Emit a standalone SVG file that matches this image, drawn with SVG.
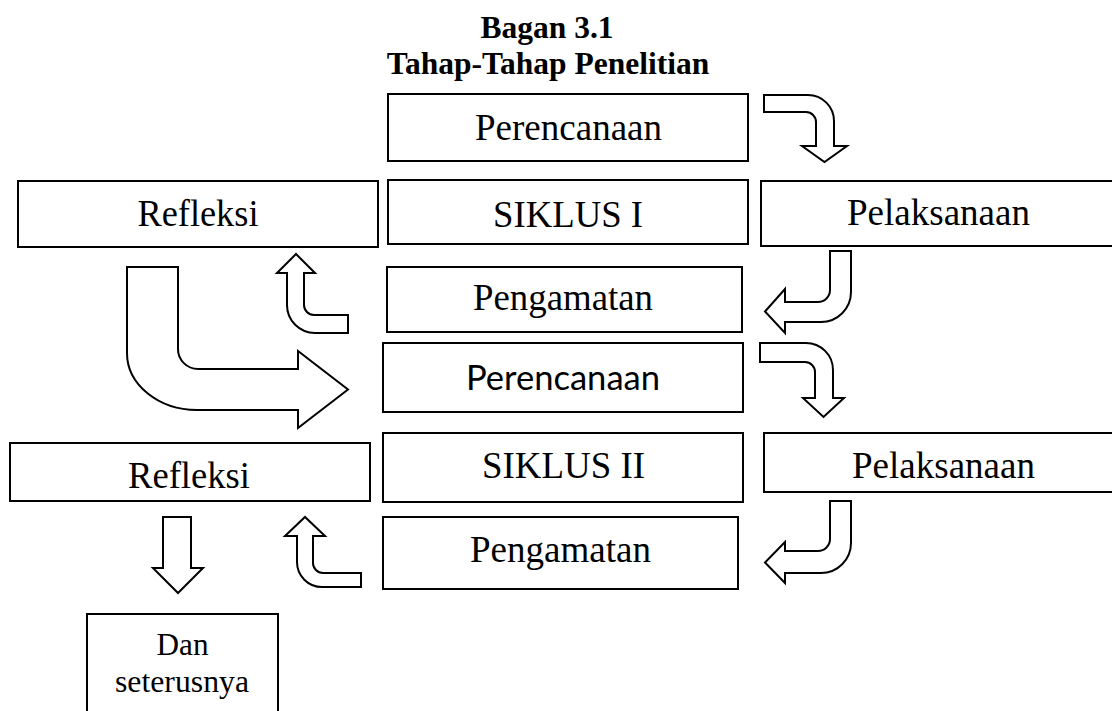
<svg xmlns="http://www.w3.org/2000/svg" width="1112" height="711" viewBox="0 0 1112 711">
<style>
.box{fill:#fff;stroke:#000;stroke-width:2}
.arr{fill:#fff;stroke:#000;stroke-width:2;stroke-linejoin:miter}
.t{font-family:"Liberation Serif","Times New Roman",serif;font-size:37px;fill:#000;text-anchor:middle}
.s{font-family:Lato,"Open Sans","Liberation Sans",sans-serif;font-size:35px;fill:#000;text-anchor:middle}
.sm{font-family:"Liberation Serif","Times New Roman",serif;font-size:31.5px;fill:#000;text-anchor:middle}
.title{font-family:"Liberation Serif","Times New Roman",serif;font-size:31.5px;font-weight:bold;fill:#000;text-anchor:middle}
</style>
<rect width="1112" height="711" fill="#fff"/>
<g id="title">
<text class="title" x="547" y="37.5">Bagan 3.1</text>
<text class="title" x="548" y="73.5">Tahap-Tahap Penelitian</text>
</g>
<g id="connectors">
<path class="arr" d="M764,95 H808 A26,26 0 0 1 834,121 V146 H847 L824.5,162 L802,146 H816 V122 A10,10 0 0 0 806,112 H764 Z"/>
<path class="arr" d="M830,251 H851 V292 A30,30 0 0 1 821,322 H785 V333 L765,311.5 L785,289 V302 H818 A12,12 0 0 0 830,290 Z"/>
<path class="arr" d="M348,315 V333 H315 A28,28 0 0 1 287,305 V273 H277 L296,254 L315,273 H304 V305 A10,10 0 0 0 314,315 Z"/>
<path class="arr" d="M127,267 H178 V349 A20,20 0 0 0 198,369 H298 V351 L348,389.5 L298,428 V410 H197 A70,57 0 0 1 127,353 Z"/>
<path class="arr" d="M760,343 H806 A27,27 0 0 1 833,370 V398 H844 L823.5,417 L803,398 H815 V372 A10,10 0 0 0 805,362 H760 Z"/>
<path class="arr" d="M830,501 H851 V543 A30,30 0 0 1 821,573 H785 V583 L765,562.5 L785,542 V551 H818 A12,12 0 0 0 830,539 Z"/>
<path class="arr" d="M361,573 V587 H322 A25,25 0 0 1 297,562 V536 H285 L305,517 L325,536 H313 V563 A10,10 0 0 0 323,573 Z"/>
<path class="arr" d="M163,517 H191 V568 H203 L178,593 L153,568 H163 Z"/>
</g>
<g id="perencanaan1"><rect class="box" x="388" y="94" width="360" height="67"/><text class="t" x="568.5" y="140" textLength="187" lengthAdjust="spacingAndGlyphs">Perencanaan</text></g>
<g id="siklus1"><rect class="box" x="388" y="180" width="360" height="64"/><text class="t" x="568" y="227" textLength="150" lengthAdjust="spacingAndGlyphs">SIKLUS I</text></g>
<g id="refleksi1"><rect class="box" x="18" y="181" width="360" height="66"/><text class="t" x="198" y="225.5" textLength="121" lengthAdjust="spacingAndGlyphs">Refleksi</text></g>
<g id="pelaksanaan1"><rect class="box" x="761" y="181" width="360" height="65"/><text class="t" x="938.5" y="225" textLength="183" lengthAdjust="spacingAndGlyphs">Pelaksanaan</text></g>
<g id="pengamatan1"><rect class="box" x="387" y="267" width="355" height="65"/><text class="t" x="563" y="310" textLength="180" lengthAdjust="spacingAndGlyphs">Pengamatan</text></g>
<g id="perencanaan2"><rect class="box" x="383" y="343" width="360" height="69"/><text class="s" x="563" y="390" textLength="194" lengthAdjust="spacingAndGlyphs">Perencanaan</text></g>
<g id="siklus2"><rect class="box" x="383" y="433" width="360" height="69"/><text class="t" x="563.5" y="478" textLength="163" lengthAdjust="spacingAndGlyphs">SIKLUS II</text></g>
<g id="refleksi2"><rect class="box" x="10" y="443" width="360" height="58"/><text class="t" x="189" y="488" textLength="122" lengthAdjust="spacingAndGlyphs">Refleksi</text></g>
<g id="pelaksanaan2"><rect class="box" x="764" y="433" width="360" height="59"/><text class="t" x="943.5" y="478" textLength="183" lengthAdjust="spacingAndGlyphs">Pelaksanaan</text></g>
<g id="pengamatan2"><rect class="box" x="383" y="517" width="355" height="72"/><text class="t" x="560.5" y="562" textLength="181" lengthAdjust="spacingAndGlyphs">Pengamatan</text></g>
<g id="dan-seterusnya"><rect class="box" x="87" y="614" width="191" height="110"/><text class="sm" x="182.5" y="655" textLength="52" lengthAdjust="spacingAndGlyphs">Dan</text><text class="sm" x="182" y="692" textLength="134" lengthAdjust="spacingAndGlyphs">seterusnya</text></g>
</svg>
